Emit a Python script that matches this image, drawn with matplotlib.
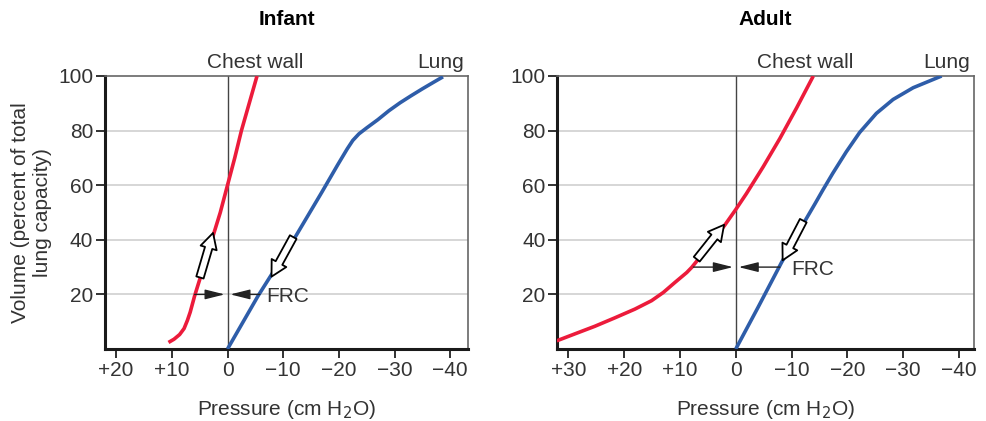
"""Curvas pressão-volume do pulmão e da parede torácica: lactente x adulto."""

import matplotlib
matplotlib.use("Agg")
import matplotlib.pyplot as plt

plt.rcParams["font.family"] = ["Liberation Sans", "DejaVu Sans"]

VERMELHO = "#EC1B3B"
AZUL = "#2E5DA9"
CINZA_TXT = "#333333"
FS = 15

# Lactente (pressão cm H2O, volume % da capacidade pulmonar total)
infant_chest_p = [10.6, 9.6, 8.6, 7.8, 7.2, 6.7, 6.3, 5.9, 4.3, 2.6, 1.3, 0.0,
                  -1.3, -2.5, -3.9, -5.3]
infant_chest_v = [2.4, 3.6, 5.3, 7.5, 10.5, 13.5, 16.5, 19.5, 30, 41.4, 50, 60,
                  70, 80, 90, 100]
infant_lung_p = [0.0, -5.5, -12.1, -16.9, -19.8, -21.5, -22.5, -23.6, -25.0, -27.0,
                 -29.0, -31.0, -33.0, -35.0, -37.0, -38.7]
infant_lung_v = [0, 19.5, 40.8, 57.3, 67.5, 73.3, 76.4, 78.8, 81.0, 84.0,
                 87.3, 90.2, 92.8, 95.3, 97.7, 99.7]

# Adulto
adult_chest_p = [32.1, 28.9, 25.3, 21.7, 18.1, 15.1, 13.0, 10.9, 8.8, 7.9, 5.0,
                 2.0, 0.0, -1.9, -4.9, -7.9, -10.9, -13.9]
adult_chest_v = [3.0, 5.5, 8.3, 11.4, 14.6, 17.7, 20.7, 24.4, 28.0, 29.9, 37.2,
                 45.3, 51.1, 56.9, 66.7, 77.1, 88.3, 100]
adult_lung_p = [0.0, -4.0, -8.2, -12.4, -14.2, -15.6, -17.4, -19.8, -22.2, -25.2,
                -28.2, -31.8, -36.9]
adult_lung_v = [0, 15.3, 31.7, 46.9, 53.2, 58.2, 64.4, 72.2, 79.3, 86.3,
                91.4, 95.7, 100]

# FRC: (pressão parede, pressão pulmão, volume)
infant_frc = (5.9, -5.8, 20)
adult_frc = (7.6, -7.9, 30)

# setas ocas: (início, fim) em (pressão, volume)
infant_setas = [((4.95, 26.2), (2.6, 42.5)), ((-11.8, 41.0), (-7.9, 26.5))]
adult_setas = [((7.0, 32.9), (2.1, 45.5)), ((-12.1, 47.0), (-8.4, 32.5))]

infant_xticks = [20, 10, 0, -10, -20, -30, -40]
adult_xticks = [30, 20, 10, 0, -10, -20, -30, -40]
yticks = [20, 40, 60, 80, 100]


def rotulo(v):
    if v > 0:
        return f"+{v}"
    if v < 0:
        return f"\u2212{abs(v)}"
    return "0"


def painel(ax, titulo, chest, lung, frc, setas, xticks, xlim, chest_x, frc_x):
    ax.set_xlim(*xlim)
    ax.set_ylim(0, 100)

    for y in yticks[:-1]:
        ax.axhline(y, color="#cfcfcf", lw=1.2, zorder=0)
    ax.axvline(0, color="#444444", lw=1.0, zorder=1)

    ax.plot(*chest, color=VERMELHO, lw=2.6, solid_capstyle="butt",
            solid_joinstyle="round", zorder=3)
    ax.plot(*lung, color=AZUL, lw=2.6, solid_capstyle="butt",
            solid_joinstyle="round", zorder=3)

    p_cw, p_l, v = frc
    seta = dict(arrowstyle="-|>,head_length=1.2,head_width=0.3", color="#222222",
                lw=1.0, shrinkA=0, shrinkB=0, mutation_scale=10)
    ax.annotate("", xy=(0.5, v), xytext=(p_cw, v), arrowprops=seta, zorder=4)
    ax.annotate("", xy=(-0.5, v), xytext=(p_l, v), arrowprops=seta, zorder=4)
    ax.text(frc_x, v - 0.7, "FRC", fontsize=FS, color=CINZA_TXT, va="center", ha="left")

    oca = dict(arrowstyle="simple,head_length=0.7,head_width=0.75,tail_width=0.34",
               fc="white", ec="black", lw=1.3, shrinkA=0, shrinkB=0, mutation_scale=16)
    for ini, fim in setas:
        ax.annotate("", xy=fim, xytext=ini, arrowprops=oca, zorder=5)

    ax.text(chest_x, 101.5, "Chest wall", fontsize=FS, color=CINZA_TXT,
            ha="center", va="bottom")
    ax.text(xlim[1] + 0.8, 101.5, "Lung", fontsize=FS, color=CINZA_TXT,
            ha="right", va="bottom")

    ax.set_xticks(xticks)
    ax.set_xticklabels([rotulo(t) for t in xticks])
    ax.set_yticks(yticks)
    ax.tick_params(labelsize=FS, labelcolor=CINZA_TXT, length=6.5, width=1.3,
                   color="#222222", pad=2)

    for lado in ["left", "bottom"]:
        ax.spines[lado].set_linewidth(2.2)
        ax.spines[lado].set_color("#1a1a1a")
    for lado in ["top", "right"]:
        ax.spines[lado].set_linewidth(1.2)
        ax.spines[lado].set_color("#666666")

    ax.set_xlabel("Pressure (cm H$_2$O)", fontsize=FS, color=CINZA_TXT, labelpad=13)
    ax.set_title(titulo, fontsize=FS, fontweight="bold", pad=37)


fig = plt.figure(figsize=(9.86, 4.21), dpi=100)
ax1 = fig.add_axes([0.1065, 0.171, 0.3682, 0.6485])
ax2 = fig.add_axes([0.5652, 0.171, 0.4226, 0.6485])

painel(ax1, "Infant", (infant_chest_p, infant_chest_v), (infant_lung_p, infant_lung_v),
       infant_frc, infant_setas, infant_xticks, (22, -43.2), -5.0, -7.0)
painel(ax2, "Adult", (adult_chest_p, adult_chest_v), (adult_lung_p, adult_lung_v),
       adult_frc, adult_setas, adult_xticks, (32, -42.7), -12.4, -10.0)

ax1.set_ylabel("Volume (percent of total\nlung capacity)", fontsize=FS,
               color=CINZA_TXT, linespacing=1.2)
ax1.yaxis.set_label_coords(-0.146, 0.5)

fig.savefig("out.png", dpi=100)
